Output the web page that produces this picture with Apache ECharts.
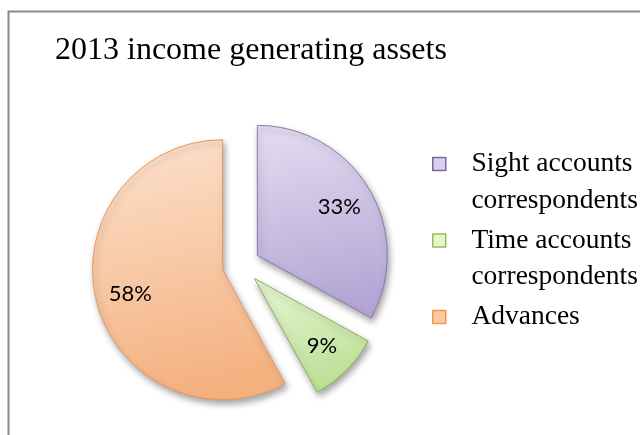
<!DOCTYPE html>
<html>
<head>
<meta charset="utf-8">
<script src="https://cdn.jsdelivr.net/npm/echarts@6/dist/echarts.min.js"></script>
<style>
  html, body { margin: 0; padding: 0; background: #fff; }
  #chart { width: 640px; height: 435px; }
</style>
</head>
<body>
<div id="chart"></div>
<script>
// 数据
const titleText = "2013 income generating assets";
const categories = ["Sight accounts correspondents", "Time accounts correspondents", "Advances"];
const shares = [33, 9, 58];
const fillTop = ["#e4def1", "#e6f5d4", "#fce2ce"];
const fillBottom = ["#b3a4d4", "#bde198", "#f4b180"];
const edgeColors = ["#8a7bb0", "#8db35a", "#e89a5e"];
const legendIcon = ["#d9d0ec", "#e2f5cc", "#fbc9a6"];
const legendBorder = ["#8064a2", "#9bbb59", "#f79646"];

let myChart = echarts.init(document.getElementById("chart"), null, { renderer: "canvas" });

let lineH = 36.5;
let pitch = 76.5;
let firstIcon = 164;
let pieCenter = [241, 265];
let pieR = 130;

let pieData = categories.map((name, i) => ({
  name: name,
  value: shares[i],
  selected: true,
  itemStyle: {
    color: {
      type: "linear", x: 0, y: 0, x2: 0.3, y2: 1,
      colorStops: [
        { offset: 0, color: fillTop[i] },
        { offset: 1, color: fillBottom[i] }
      ]
    },
    borderColor: edgeColors[i]
  }
}));

// 标签用的透明饼图，半径更大，让百分比更靠外
let labelData = categories.map((name, i) => ({
  name: name,
  value: shares[i],
  selected: true
}));

let legendData = categories.map((name, i) => ({
  name: name,
  itemStyle: { color: legendIcon[i], borderColor: legendBorder[i], borderWidth: 1.5 }
}));

let option = {
  animation: false,
  backgroundColor: "#fff",
  title: {
    text: titleText,
    left: 55,
    top: 35,
    padding: 0,
    textStyle: {
      fontFamily: "Liberation Serif",
      fontSize: 32,
      fontWeight: "normal",
      color: "#000"
    }
  },
  legend: {
    orient: "vertical",
    left: 432,
    top: firstIcon - lineH * 1.5,
    padding: 0,
    itemGap: pitch - lineH * 3,
    itemWidth: 13,
    itemHeight: 13,
    icon: "rect",
    selectedMode: false,
    // 首行空行让图标对齐到第一行文字
    formatter: name => {
      let lines = name.replace(" correspondents", "\ncorrespondents").split("\n");
      if (lines.length === 1) lines.push("");
      return "\n" + lines.map(s => "   " + s).join("\n");
    },
    textStyle: {
      fontFamily: "Liberation Serif",
      fontSize: 27.5,
      lineHeight: lineH,
      color: "#000"
    },
    data: legendData
  },
  graphic: [
    {
      type: "rect",
      left: 6,
      top: 9,
      shape: { width: 700, height: 500 },
      style: { fill: "none", stroke: "#8a8a8a", lineWidth: 2 },
      silent: true
    }
  ],
  series: [
    {
      type: "pie",
      center: pieCenter,
      radius: pieR,
      startAngle: 90,
      clockwise: true,
      selectedMode: "multiple",
      selectedOffset: 19,
      emphasis: { disabled: true },
      z: 2,
      itemStyle: {
        borderWidth: 1,
        shadowBlur: 6,
        shadowColor: "rgba(0,0,0,0.35)",
        shadowOffsetX: 2,
        shadowOffsetY: 4
      },
      label: { show: false },
      labelLine: { show: false },
      data: pieData
    },
    {
      type: "pie",
      center: pieCenter,
      radius: pieR * 1.42,
      startAngle: 90,
      clockwise: true,
      selectedMode: "multiple",
      selectedOffset: 19,
      silent: true,
      emphasis: { disabled: true },
      z: 3,
      itemStyle: { color: "rgba(0,0,0,0)", borderWidth: 0 },
      label: {
        show: true,
        position: "inside",
        formatter: "{c}%",
        fontFamily: "Lato",
        fontSize: 22,
        color: "#000"
      },
      labelLine: { show: false },
      data: labelData
    }
  ]
};
myChart.setOption(option, true);
</script>
</body>
</html>
